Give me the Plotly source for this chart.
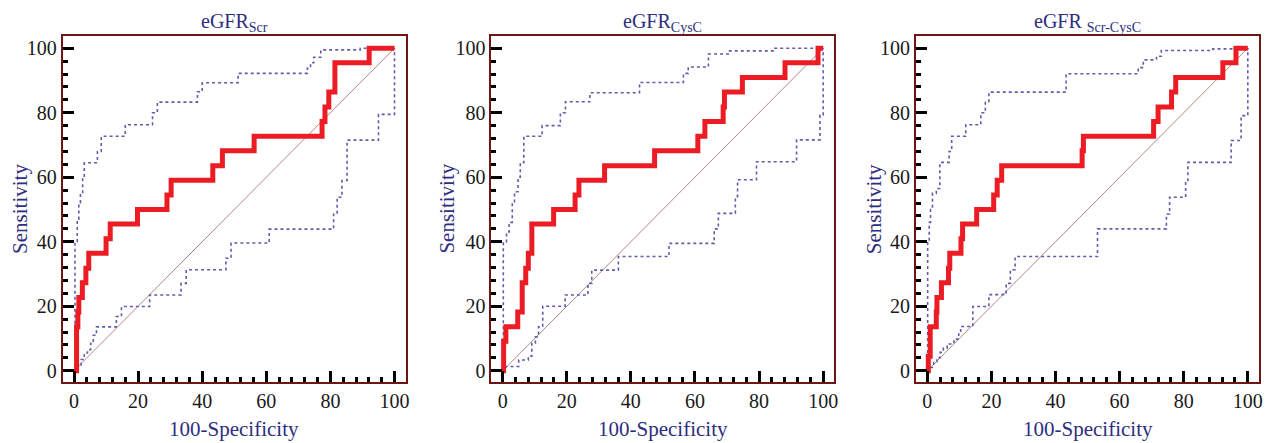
import plotly.graph_objects as go

# ---------------- data (100-Specificity, Sensitivity) ----------------
titles = ["eGFR<sub>Scr</sub>", "eGFR<sub>CysC</sub>", "eGFR <sub>Scr-CysC</sub>"]

scr_roc_x = [0, 0.8, 1.2, 1.5, 2.6, 3.7, 4.6, 10.0, 11.3, 19.8, 29.0, 30.3, 43.3, 46.3, 56.2, 77.4, 78.3, 79.5, 81.4, 92.1, 100]
scr_roc_y = [0, 13.6, 18.2, 22.7, 27.3, 31.8, 36.4, 40.9, 45.5, 50.0, 54.5, 59.1, 63.6, 68.2, 72.7, 77.3, 81.8, 86.4, 95.5, 100, 100]
scr_up_x = [0, 0.3, 1.0, 1.5, 2.0, 2.7, 3.2, 7.3, 8.5, 16.0, 24.5, 26.0, 38.5, 40.0, 51.2, 72.8, 73.8, 74.8, 77.0, 89.3, 100]
scr_up_y = [0, 40, 47, 52, 55, 60, 64.5, 68, 72.7, 76.3, 80, 83.3, 86.5, 89.3, 92.2, 93.8, 95.5, 97.2, 99.5, 100, 100]
scr_lo_x = [0, 1.2, 2.2, 3.2, 4.2, 5.2, 6.0, 7.0, 13.2, 14.8, 23.6, 33.4, 35.0, 47.4, 49.0, 60.9, 81.0, 82.1, 83.6, 85.2, 95.0, 100]
scr_lo_y = [0, 1.5, 3.5, 5.5, 6.5, 8.5, 11, 13.6, 16.8, 19.9, 23.5, 27.1, 31.3, 34.9, 39.6, 43.9, 48.5, 53.8, 59.0, 71.5, 79.5, 100]

cys_roc_x = [0, 0.3, 1.0, 4.7, 6.1, 7.2, 8.0, 9.1, 15.9, 22.6, 23.8, 31.8, 47.4, 60.9, 63.1, 68.8, 69.2, 74.8, 88.1, 98.4, 100]
cys_roc_y = [0, 9.1, 13.6, 18.2, 27.3, 31.8, 36.4, 45.5, 50.0, 54.5, 59.1, 63.6, 68.2, 72.7, 77.3, 81.8, 86.4, 90.9, 95.5, 100, 100]
cys_up_x = [0, 0.2, 1.2, 2.0, 3.0, 3.7, 4.8, 5.5, 6.6, 12.3, 18.0, 19.6, 27.2, 42.7, 56.4, 57.9, 64.2, 70.4, 84.9, 100]
cys_up_y = [0, 40, 43, 46, 52, 55.5, 60, 64.5, 72.7, 76, 80, 83.4, 86.2, 89.4, 92.2, 94.2, 98.2, 99.2, 100, 100]
cys_lo_x = [0, 1.0, 5.0, 8.0, 9.1, 10.2, 11.2, 12.5, 19.5, 26.6, 27.8, 36.1, 51.9, 66.0, 67.3, 72.6, 73.3, 79.2, 91.7, 99.0, 100]
cys_lo_y = [0, 1.3, 3.3, 4.5, 8.5, 10.5, 13.6, 20.0, 23.5, 27.1, 31.2, 35.4, 39.5, 44.0, 48.8, 54.0, 59.2, 64.8, 71.6, 79.3, 100]

com_roc_x = [0, 0.3, 0.9, 2.8, 3.0, 4.4, 6.6, 7.0, 10.5, 11.0, 15.4, 20.7, 21.8, 23.2, 48.3, 48.7, 70.6, 72.0, 76.2, 77.5, 92.2, 96.3, 100]
com_roc_y = [0, 4.5, 13.6, 18.2, 22.7, 27.3, 31.8, 36.4, 40.9, 45.5, 50.0, 54.5, 59.1, 63.6, 68.2, 72.7, 77.3, 81.8, 86.4, 90.9, 95.5, 100, 100]
com_up_x = [0, 0.1, 0.6, 1.0, 1.6, 2.8, 3.9, 6.8, 7.6, 12.0, 16.7, 18.1, 19.2, 43.3, 65.8, 67.4, 71.5, 73.0, 89.1, 100]
com_up_y = [0, 40, 46, 50, 55, 56.5, 64.6, 68, 72.7, 76.3, 80, 83.5, 86.4, 92.1, 94, 96.4, 97.5, 99.3, 99.8, 100]
com_lo_x = [0, 0.8, 2.0, 3.0, 4.0, 5.0, 6.2, 8.3, 9.8, 10.4, 14.2, 19.2, 24.6, 25.9, 27.4, 53.1, 74.6, 75.6, 80.6, 81.3, 94.8, 97.9, 100]
com_lo_y = [0, 1, 2.5, 4, 5.7, 7, 8.3, 9.8, 11.4, 13.7, 19.9, 23.6, 27.1, 31.3, 35.4, 44.0, 48.6, 53.8, 59.0, 64.6, 71.4, 79.1, 100]

diag = [0, 100]

panels = [
    (scr_roc_x, scr_roc_y, scr_up_x, scr_up_y, scr_lo_x, scr_lo_y),
    (cys_roc_x, cys_roc_y, cys_up_x, cys_up_y, cys_lo_x, cys_lo_y),
    (com_roc_x, com_roc_y, com_up_x, com_up_y, com_lo_x, com_lo_y),
]

# ---------------- layout ----------------
W, H = 1274, 443
frames_px = [(63, 407), (493, 837), (919, 1263)]
ylab_px = [20, 448, 877]
y_dom = [(H - 382) / H, (H - 36) / H]

RED = "#ec1c24"
BLUE = "#5e5eaa"
DIAG = "#b98585"
FRAME = "#6e1616"
NAVY = "#2e2e7e"
SERIF = "Liberation Serif, Times New Roman, serif"

fig = go.Figure()
annotations = []
for i, (rx, ry, ux, uy, lx, ly) in enumerate(panels):
    xa = "x" if i == 0 else f"x{i+1}"
    ya = "y" if i == 0 else f"y{i+1}"
    fig.add_trace(go.Scatter(x=diag, y=diag, mode="lines", xaxis=xa, yaxis=ya,
                             line=dict(color=DIAG, width=1), hoverinfo="skip"))
    fig.add_trace(go.Scatter(x=ux, y=uy, mode="lines", xaxis=xa, yaxis=ya, line_shape="hv",
                             line=dict(color=BLUE, width=1.6, dash="dot")))
    fig.add_trace(go.Scatter(x=lx, y=ly, mode="lines", xaxis=xa, yaxis=ya, line_shape="hv",
                             line=dict(color=BLUE, width=1.6, dash="dot")))
    fig.add_trace(go.Scatter(x=rx, y=ry, mode="lines", xaxis=xa, yaxis=ya, line_shape="hv",
                             line=dict(color=RED, width=5)))

    l, r = frames_px[i]
    axcommon = dict(
        showgrid=False, zeroline=False, showline=True, linecolor=FRAME, linewidth=2,
        mirror=True, ticks="inside", ticklen=11, tickwidth=3, tickcolor="black",
        dtick=20, tick0=0,
        minor=dict(ticks="inside", ticklen=5, tickwidth=3, tickcolor="black", dtick=4, showgrid=False),
        tickfont=dict(family=SERIF, size=20, color="#1a1a1a"),
    )
    key_x = "xaxis" if i == 0 else f"xaxis{i+1}"
    key_y = "yaxis" if i == 0 else f"yaxis{i+1}"
    fig.update_layout(**{
        key_x: dict(domain=[l / W, r / W], range=[-3.5, 103.5], anchor=ya, **axcommon),
        key_y: dict(domain=y_dom, range=[-3.5, 103.8], anchor=xa, **axcommon),
    })
    cx = (l + r) / 2 / W
    annotations.append(dict(text=titles[i], x=cx, y=(H - 22) / H, xref="paper", yref="paper",
                            showarrow=False, xanchor="center", yanchor="middle",
                            font=dict(family=SERIF, size=20, color=NAVY)))
    annotations.append(dict(text="100-Specificity", x=cx, y=(H - 429) / H, xref="paper", yref="paper",
                            showarrow=False, xanchor="center", yanchor="middle",
                            font=dict(family=SERIF, size=21, color=NAVY)))
    annotations.append(dict(text="Sensitivity", x=ylab_px[i] / W, y=(H - 209) / H, xref="paper", yref="paper",
                            showarrow=False, xanchor="center", yanchor="middle", textangle=-90,
                            font=dict(family=SERIF, size=21, color=NAVY)))

fig.update_layout(
    width=W, height=H, margin=dict(l=0, r=0, t=0, b=0),
    paper_bgcolor="white", plot_bgcolor="white", showlegend=False,
    annotations=annotations,
)

fig.write_html("out.html", config={"displayModeBar": False},
               post_script="document.body.style.margin='0';document.body.style.overflow='hidden';")
